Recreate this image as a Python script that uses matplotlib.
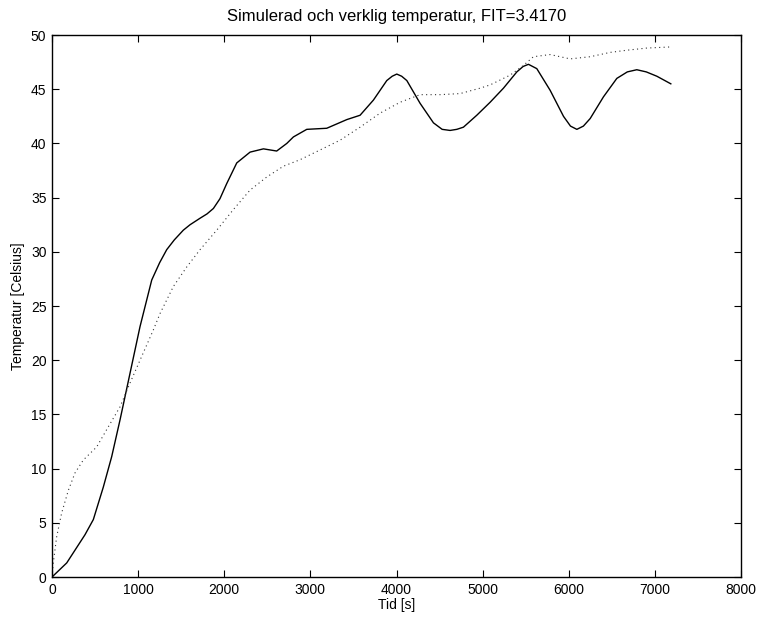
import matplotlib
matplotlib.use("Agg")
import matplotlib.pyplot as plt

# simulerad temperatur (heldragen)
sim_t = [0, 171, 383, 480, 596, 693, 790, 906, 1022, 1158, 1250, 1332, 1420, 1525, 1603,
         1719, 1800, 1874, 1950, 2029, 2145, 2300, 2455, 2609, 2726, 2803, 2958, 3190,
         3423, 3577, 3732, 3887, 3950, 4003, 4060, 4120, 4274, 4429, 4530, 4622, 4700,
         4777, 4932, 5087, 5242, 5397, 5470, 5532, 5629, 5784, 5939, 6020, 6094, 6170,
         6249, 6403, 6558, 6680, 6790, 6900, 7023, 7185]
sim_temp = [0, 1.3, 3.9, 5.3, 8.3, 11.1, 14.5, 18.8, 23.1, 27.4, 29.0, 30.2, 31.1, 32.0,
            32.5, 33.1, 33.5, 34.0, 34.9, 36.3, 38.2, 39.2, 39.5, 39.3, 40.0, 40.6, 41.3,
            41.4, 42.2, 42.6, 44.0, 45.8, 46.2, 46.4, 46.2, 45.8, 43.7, 41.9, 41.3, 41.2,
            41.3, 41.5, 42.6, 43.8, 45.1, 46.6, 47.1, 47.3, 46.9, 44.9, 42.5, 41.6, 41.3,
            41.6, 42.3, 44.3, 46.0, 46.6, 46.8, 46.6, 46.2, 45.5]

# verklig temperatur (prickad)
verk_t = [0, 15, 54, 112, 190, 267, 364, 519, 635, 790, 906, 1022, 1177, 1254, 1409,
          1564, 1719, 1913, 2106, 2300, 2493, 2687, 2880, 3113, 3345, 3577, 3810, 4042,
          4274, 4506, 4739, 4971, 5087, 5319, 5474, 5590, 5784, 6016, 6249, 6481, 6675,
          6907, 7177]
verk_temp = [0, 1.3, 3.7, 5.9, 8.0, 9.6, 10.8, 12.0, 13.6, 15.7, 17.9, 20.0, 22.8, 24.3,
             26.8, 28.6, 30.2, 32.0, 33.9, 35.7, 36.9, 37.9, 38.5, 39.4, 40.3, 41.5, 42.8,
             43.8, 44.5, 44.5, 44.6, 45.1, 45.4, 46.3, 47.2, 48.0, 48.2, 47.8, 48.0, 48.4,
             48.6, 48.8, 48.9]

plt.rcParams['font.family'] = ['Liberation Sans', 'DejaVu Sans']
plt.rcParams['font.size'] = 10

fig = plt.figure(figsize=(7.59, 6.17), dpi=100)
ax = fig.add_axes([0.0685, 0.0648, 0.9078, 0.8784])

ax.plot(sim_t, sim_temp, color="black", linewidth=1.0)
ax.plot(verk_t, verk_temp, color="0.2", linewidth=0.8, linestyle=(0, (1, 3)))

ax.set_xlim(0, 8000)
ax.set_ylim(0, 50)
ax.set_xticks(range(0, 8001, 1000))
ax.set_yticks(range(0, 51, 5))
ax.tick_params(direction="in", top=True, right=True, length=5, pad=4)
for s in ax.spines.values():
    s.set_linewidth(1.0)

ax.set_xlabel("Tid [s]", labelpad=1)
ax.set_ylabel("Temperatur [Celsius]", labelpad=4)
ax.set_title("Simulerad och verklig temperatur, FIT=3.4170", pad=10)

fig.savefig("out.png", dpi=100)
